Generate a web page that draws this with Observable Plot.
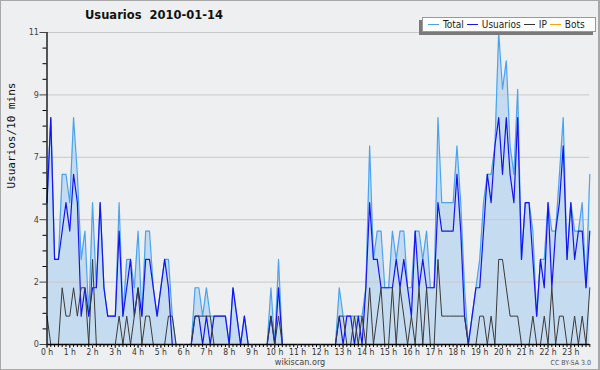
<!DOCTYPE html>
<html><head><meta charset="utf-8">
<script src="https://cdn.jsdelivr.net/npm/d3@7"></script>
<script src="https://cdn.jsdelivr.net/npm/@observablehq/plot@0.6"></script>
<style>
body{margin:0;background:#fff;}
#wrap{position:relative;width:600px;height:370px;background:#eeeff0;overflow:hidden;font-family:"DejaVu Sans",sans-serif;}
#chart{position:absolute;left:0;top:0;}
#border{position:absolute;left:0;top:0;right:0;bottom:0;border:1px solid #a8a8a8;border-right-width:2px;pointer-events:none;}
#title{position:absolute;left:85px;top:8px;font-weight:bold;font-size:11.5px;color:#111;white-space:pre;}
#legend{position:absolute;left:422px;top:17px;width:168px;height:13px;background:#fff;border:1px solid #999;box-shadow:-3px 3px 0 #7a7a7a;font-family:"DejaVu Sans Condensed","DejaVu Sans",sans-serif;font-size:10px;color:#222;display:flex;align-items:center;padding-left:4px;white-space:nowrap;}
#legend .sw{display:inline-block;width:11px;height:1px;margin:0 4px 0 1px;}
#legend .it{margin-right:2px;}
#foot{position:absolute;left:0;width:600px;top:357px;text-align:center;font-family:"DejaVu Sans Condensed","DejaVu Sans",sans-serif;font-size:9px;color:#444;}
#cc{position:absolute;right:9px;top:359px;font-family:"DejaVu Sans Condensed","DejaVu Sans",sans-serif;font-size:7px;color:#555;}
</style></head>
<body>
<div id="wrap">
<div id="chart"></div>
<div id="title">Usuarios  2010-01-14</div>
<div id="legend"><span class="sw" style="background:#4aa3f0"></span><span class="it">Total</span><span class="sw" style="background:#1414f0"></span><span class="it">Usuarios</span><span class="sw" style="background:#333"></span><span class="it">IP</span><span class="sw" style="background:#ffa500"></span><span class="it">Bots</span></div>
<div id="foot">wikiscan.org</div>
<div id="cc">CC BY-SA 3.0</div>
<div id="border"></div>
</div>
<script>
// 144 ten-minute slots (0 h .. 23 h 50)
const total = [5,8,3,3,6,6,5,8,6,3,4,1,5,2,5,2,1,1,1,5,1,3,3,2,4,1,4,4,2,1,2,3,3,1,0,0,0,0,0,2,2,1,2,1,1,1,1,1,0,2,1,0,1,0,0,0,0,0,0,2,0,3,0,0,0,0,0,0,0,0,0,0,0,0,0,0,0,2,1,1,1,1,1,1,2,7,3,4,4,2,2,4,3,4,4,2,2,4,4,3,4,2,2,8,5,5,5,5,7,5,2,0,1,2,3,5,6,6,7,11,9,10,7,6,9,3,5,5,4,1,3,3,5,4,4,6,8,3,5,4,4,5,2,6];
const usuarios = [5,8,3,3,4,5,4,6,5,1,2,1,2,2,5,2,1,1,1,4,1,2,3,1,2,1,3,3,2,1,2,3,2,0,0,0,0,0,0,1,1,0,1,0,1,1,1,1,0,2,1,0,1,0,0,0,0,0,0,1,0,2,0,0,0,0,0,0,0,0,0,0,0,0,0,0,0,1,0,1,1,0,1,0,2,5,3,3,2,2,2,2,3,2,3,2,1,4,2,3,2,2,2,5,4,4,4,4,6,4,1,0,1,2,2,4,6,5,7,8,6,8,6,5,8,3,5,5,3,1,3,2,5,2,4,5,7,3,5,3,4,4,2,4];
const ip = [1,0,0,0,2,1,1,2,1,2,2,0,3,0,0,0,0,0,0,1,0,1,0,1,2,0,1,1,0,0,0,0,1,1,0,0,0,0,0,1,1,1,1,1,0,0,0,0,0,0,0,0,0,0,0,0,0,0,0,1,0,1,0,0,0,0,0,0,0,0,0,0,0,0,0,0,0,1,1,0,0,1,0,1,0,2,0,1,2,0,0,2,0,2,1,0,1,0,2,0,2,0,0,3,1,1,1,1,1,1,1,0,0,0,1,1,0,1,0,3,3,2,1,1,1,0,0,0,1,0,0,1,0,2,0,1,1,0,0,1,0,1,0,2];
const bots = total.map(() => 0);

const yTicks = [0, 2.2, 4.4, 6.6, 8.8, 11];
const yTickLabels = ["0", "2", "4", "7", "9", "11"];
const yMinorTicks = d3.range(0, 21).map(k => k * 0.55).filter(v => Math.abs(v / 2.2 - Math.round(v / 2.2)) > 1e-6);
const hourTicks = d3.range(0, 24).map(h => h * 6);
const hourLabels = d3.range(0, 24).map(h => h + " h");
const slotTicks = d3.range(0, 144);

const data = total.map((t, i) => ({i, total: t, usuarios: usuarios[i], ip: ip[i], bots: bots[i]}));

const chart = Plot.plot({
  width: 600, height: 370,
  marginLeft: 46.5, marginRight: 10.7, marginTop: 32, marginBottom: 26,
  style: {background: "transparent", fontFamily: "DejaVu Sans Condensed, DejaVu Sans", fontSize: "9px", overflow: "visible"},
  x: {domain: [0, 143], axis: null, label: null},
  y: {domain: [0, 11], axis: null, label: null},
  marks: [
    Plot.areaY(data, {x: "i", y: "total", fill: "#c5dcf0"}),
    Plot.ruleY(yTicks.slice(1), {stroke: "#c9c9c9", strokeWidth: 1}),
    Plot.lineY(data, {x: "i", y: "bots", stroke: "#ffa500", strokeWidth: 1}),
    Plot.lineY(data, {x: "i", y: "total", stroke: "#4aa3f0", strokeWidth: 1.2}),
    Plot.lineY(data, {x: "i", y: "usuarios", stroke: "#1414f0", strokeWidth: 1.2}),
    Plot.lineY(data, {x: "i", y: "ip", stroke: "#3a3a3a", strokeWidth: 1}),
    Plot.ruleX([0], {y1: 0, y2: 11, stroke: "#000", strokeWidth: 1.3}),
    Plot.ruleY([0], {stroke: "#000", strokeWidth: 1.3}),
    Plot.axisY({ticks: yTicks, tickSize: 7, tickPadding: 1, tickFormat: d => yTickLabels[yTicks.indexOf(d)], color: "#444", fontSize: 9, label: null}),
    Plot.axisY({ticks: yMinorTicks, tickSize: 4, tickFormat: () => "", color: "#000", label: null}),
    Plot.axisX({ticks: slotTicks, tickSize: 3, tickFormat: () => "", color: "#000", label: null}),
    Plot.axisX({ticks: hourTicks, tickSize: 4, tickPadding: 0, tickFormat: d => hourLabels[d / 6], color: "#333", fontSize: 8.5, label: null}),
    Plot.text(["Usuarios/10 mins"], {frameAnchor: "left", rotate: -90, dx: -36, fontFamily: "DejaVu Sans Mono", fontSize: 11, fill: "#111"})
  ]
});
document.getElementById("chart").appendChild(chart);
</script>
</body></html>
